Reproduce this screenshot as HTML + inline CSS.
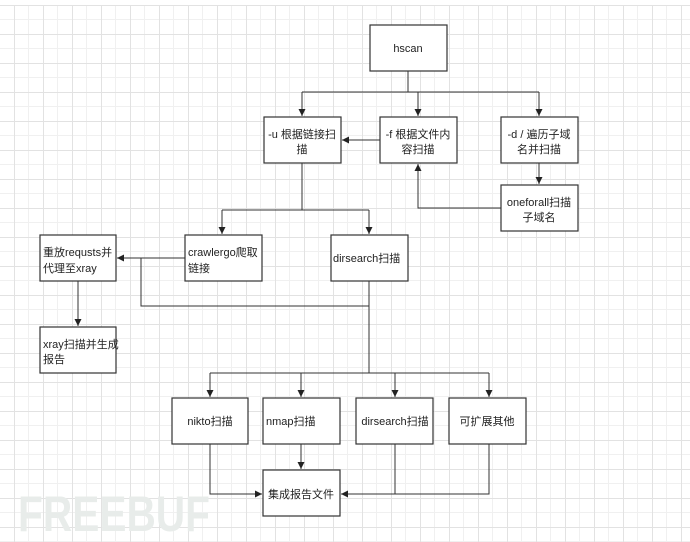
<!DOCTYPE html>
<html><head><meta charset="utf-8"><style>
html,body{margin:0;padding:0;background:#fff;}
svg{display:block;}
text{font-family:"Liberation Sans","Noto Sans CJK SC",sans-serif;font-size:11px;fill:#222;}
</style></head><body>
<svg width="690" height="542" viewBox="0 0 690 542" xmlns="http://www.w3.org/2000/svg">
<defs>
<pattern id="g" x="14" y="5" width="29" height="29" patternUnits="userSpaceOnUse">
<path d="M14.5 0V29M0 14.5H29" stroke="#f0f0f0" stroke-width="1"/>
<path d="M0.5 0V29M0 0.5H29" stroke="#e2e2e2" stroke-width="1"/>
</pattern>
<marker id="a" markerWidth="8" markerHeight="8" refX="7" refY="4" orient="auto" markerUnits="userSpaceOnUse">
<path d="M0,0.5 L7,4 L0,7.5 z" fill="#222"/>
</marker>
</defs>
<rect width="690" height="542" fill="#fff"/>
<rect x="0" y="5" width="690" height="537" fill="url(#g)"/>
<text x="18" y="531" textLength="192" lengthAdjust="spacingAndGlyphs" style="font-size:50px;font-weight:bold;fill:#e8ecea">FREEBUF</text>
<g stroke="#333" stroke-width="1" fill="none">
<path d="M408 71V92M302 92H539"/>
<path d="M302 92V116" marker-end="url(#a)"/>
<path d="M418 92V116" marker-end="url(#a)"/>
<path d="M539 92V116" marker-end="url(#a)"/>
<path d="M380 140H342" marker-end="url(#a)"/>
<path d="M539 163V184" marker-end="url(#a)"/>
<path d="M501 208H418V164" marker-end="url(#a)"/>
<path d="M302 163V210M222 210H369"/>
<path d="M222 210V234" marker-end="url(#a)"/>
<path d="M369 210V234" marker-end="url(#a)"/>
<path d="M185 258H117" marker-end="url(#a)"/>
<path d="M141 258V306H369"/>
<path d="M78 281V326" marker-end="url(#a)"/>
<path d="M369 281V373M210 373H489"/>
<path d="M210 373V397" marker-end="url(#a)"/>
<path d="M301 373V397" marker-end="url(#a)"/>
<path d="M395 373V397" marker-end="url(#a)"/>
<path d="M489 373V397" marker-end="url(#a)"/>
<path d="M301 444V469" marker-end="url(#a)"/>
<path d="M210 444V494H262" marker-end="url(#a)"/>
<path d="M395 444V494M489 444V494H341" marker-end="url(#a)"/>
</g>
<g fill="#fff" stroke="#333" stroke-width="1.2">
<rect x="370" y="25" width="77" height="46"/>
<rect x="264" y="117" width="77" height="46"/>
<rect x="380" y="117" width="77" height="46"/>
<rect x="501" y="117" width="77" height="46"/>
<rect x="501" y="185" width="77" height="46"/>
<rect x="40" y="235" width="76" height="46"/>
<rect x="185" y="235" width="77" height="46"/>
<rect x="331" y="235" width="77" height="46"/>
<rect x="40" y="327" width="76" height="46"/>
<rect x="172" y="398" width="76" height="46"/>
<rect x="263" y="398" width="77" height="46"/>
<rect x="356" y="398" width="77" height="46"/>
<rect x="449" y="398" width="77" height="46"/>
<rect x="263" y="470" width="77" height="46"/>
</g>
<text x="408" y="52" text-anchor="middle">hscan</text>
<text x="302" y="138" text-anchor="middle">-u 根据链接扫</text>
<text x="302" y="153" text-anchor="middle">描</text>
<text x="418" y="138" text-anchor="middle">-f 根据文件内</text>
<text x="418" y="153" text-anchor="middle">容扫描</text>
<text x="539" y="138" text-anchor="middle">-d / 遍历子域</text>
<text x="539" y="153" text-anchor="middle">名并扫描</text>
<text x="539" y="206" text-anchor="middle">oneforall扫描</text>
<text x="539" y="221" text-anchor="middle">子域名</text>
<text x="43" y="256">重放requsts并</text>
<text x="43" y="272">代理至xray</text>
<text x="188" y="256">crawlergo爬取</text>
<text x="188" y="272">链接</text>
<text x="333" y="262">dirsearch扫描</text>
<text x="43" y="348">xray扫描并生成</text>
<text x="43" y="363">报告</text>
<text x="210" y="425" text-anchor="middle">nikto扫描</text>
<text x="266" y="425">nmap扫描</text>
<text x="395" y="425" text-anchor="middle">dirsearch扫描</text>
<text x="487" y="425" text-anchor="middle">可扩展其他</text>
<text x="301" y="498" text-anchor="middle">集成报告文件</text>
</svg>
</body></html>
